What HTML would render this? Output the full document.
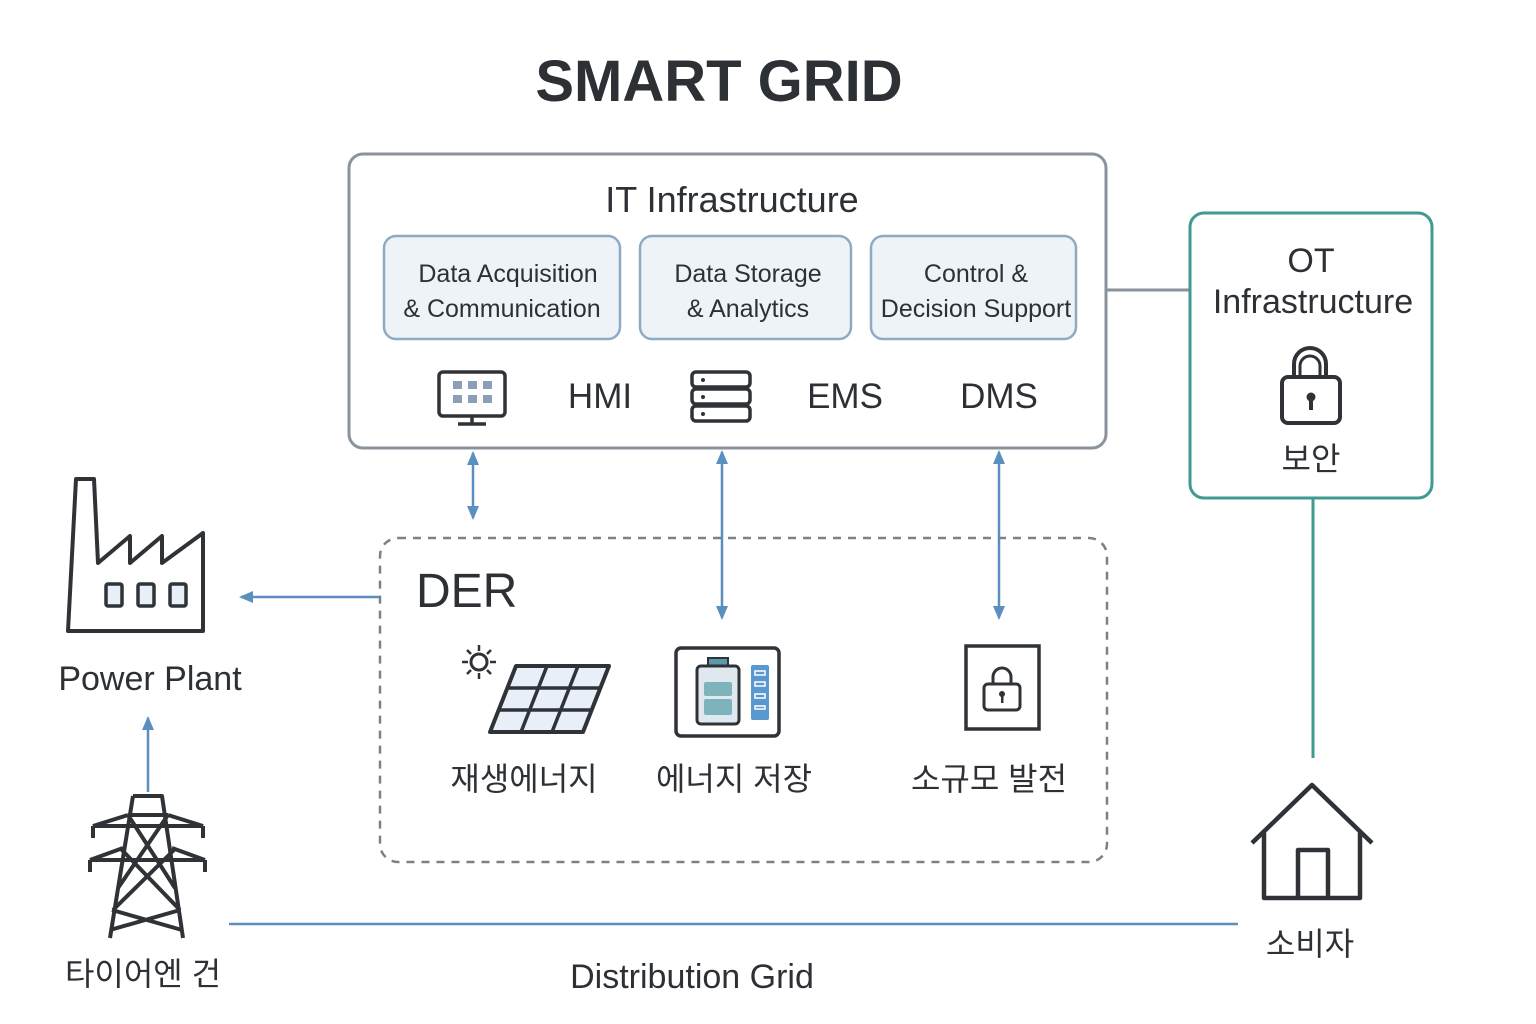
<!DOCTYPE html>
<html><head><meta charset="utf-8"><style>
html,body{margin:0;padding:0;background:#fff}
svg{display:block}
text{font-family:"Liberation Sans","Noto Sans CJK KR",sans-serif;fill:#2d3136}
</style></head><body>
<svg width="1536" height="1024" viewBox="0 0 1536 1024" xmlns="http://www.w3.org/2000/svg">
<defs>
<marker id="ar" markerWidth="14" markerHeight="12" refX="12" refY="6" orient="auto-start-reverse" markerUnits="userSpaceOnUse"><path d="M0,0 L14,6 L0,12 z" fill="#5a8fc0"/></marker>
</defs>
<text x="719" y="101" font-size="58" font-weight="bold" text-anchor="middle">SMART GRID</text>

<rect x="349" y="154" width="757" height="294" rx="14" fill="#fff" stroke="#8a939b" stroke-width="3"/>
<text x="732" y="212" font-size="36" text-anchor="middle">IT Infrastructure</text>
<rect x="384" y="236" width="236" height="103" rx="12" fill="#eef3f8" stroke="#8eaac4" stroke-width="2.5"/>
<text x="508" y="282" font-size="25" text-anchor="middle">Data Acquisition</text>
<text x="502" y="317" font-size="25" text-anchor="middle">&amp; Communication</text>
<rect x="640" y="236" width="211" height="103" rx="12" fill="#eef3f8" stroke="#8eaac4" stroke-width="2.5"/>
<text x="748" y="282" font-size="25" text-anchor="middle">Data Storage</text>
<text x="748" y="317" font-size="25" text-anchor="middle">&amp; Analytics</text>
<rect x="871" y="236" width="205" height="103" rx="12" fill="#eef3f8" stroke="#8eaac4" stroke-width="2.5"/>
<text x="976" y="282" font-size="25" text-anchor="middle">Control &amp;</text>
<text x="976" y="317" font-size="25" text-anchor="middle">Decision Support</text>
<rect x="439" y="372" width="66" height="44" rx="4" fill="#fff" stroke="#2f3338" stroke-width="3.5"/>
<g fill="#8aa0b5"><rect x="453" y="381" width="9" height="8"/><rect x="468" y="381" width="9" height="8"/><rect x="483" y="381" width="9" height="8"/><rect x="453" y="395" width="9" height="8"/><rect x="468" y="395" width="9" height="8"/><rect x="483" y="395" width="9" height="8"/></g>
<path d="M472 416 v7 M458 424 h28" stroke="#2f3338" stroke-width="3.5"/>
<text x="600" y="408" font-size="35" text-anchor="middle">HMI</text>
<g fill="#fff" stroke="#2f3338" stroke-width="3.5"><rect x="692" y="372" width="58" height="15" rx="4"/><rect x="692" y="389" width="58" height="15" rx="4"/><rect x="692" y="406" width="58" height="15" rx="4"/></g>
<g fill="#2f3338"><circle cx="703" cy="380" r="2"/><circle cx="703" cy="397" r="2"/><circle cx="703" cy="414" r="2"/></g>
<text x="845" y="408" font-size="35" text-anchor="middle">EMS</text>
<text x="999" y="408" font-size="35" text-anchor="middle">DMS</text>

<line x1="1106" y1="290" x2="1190" y2="290" stroke="#8a939b" stroke-width="3"/>
<rect x="1190" y="213" width="242" height="285" rx="14" fill="#fff" stroke="#3f9a8f" stroke-width="3"/>
<text x="1311" y="272" font-size="34" text-anchor="middle">OT</text>
<text x="1313" y="313" font-size="34" text-anchor="middle">Infrastructure</text>
<path d="M1294 378 v-14 a16 16 0 0 1 32 0 v14" fill="none" stroke="#2f3338" stroke-width="4"/>
<path d="M1300 378 v-12 a10 10 0 0 1 20 0 v12" fill="none" stroke="#2f3338" stroke-width="3"/>
<rect x="1282" y="377" width="58" height="46" rx="6" fill="#fff" stroke="#2f3338" stroke-width="4"/>
<circle cx="1311" cy="397" r="4.5" fill="#2f3338"/><rect x="1309" y="399" width="4" height="11" fill="#2f3338"/>
<text x="1311" y="470" font-size="32" text-anchor="middle">보안</text>
<line x1="1313" y1="498" x2="1313" y2="758" stroke="#3f9a8f" stroke-width="3"/>

<g stroke="#5a8fc0" stroke-width="2.5" fill="none">
<line x1="473" y1="453" x2="473" y2="518" marker-start="url(#ar)" marker-end="url(#ar)"/>
<line x1="722" y1="452" x2="722" y2="618" marker-start="url(#ar)" marker-end="url(#ar)"/>
<line x1="999" y1="452" x2="999" y2="618" marker-start="url(#ar)" marker-end="url(#ar)"/>
<line x1="380" y1="597" x2="241" y2="597" marker-end="url(#ar)"/>
<line x1="148" y1="792" x2="148" y2="718" marker-end="url(#ar)"/>
<line x1="229" y1="924" x2="1238" y2="924"/>
</g>

<rect x="380" y="538" width="727" height="324" rx="18" fill="none" stroke="#7a8289" stroke-width="2.5" stroke-dasharray="8 7"/>
<text x="416" y="607" font-size="48">DER</text>
<circle cx="479" cy="662" r="8" fill="none" stroke="#2f3338" stroke-width="3"/>
<g stroke="#2f3338" stroke-width="2.5"><path d="M479 645v6M479 673v6M462 662h6M490 662h6M467 650l4 4M487 670l4 4M467 674l4-4M487 654l4-4"/></g>
<path d="M516 666 L609 666 L583 732 L490 732 Z" fill="#e8eff8" stroke="#2f3338" stroke-width="4" stroke-linejoin="round"/>
<g stroke="#2f3338" stroke-width="3.5"><line x1="508" y1="688" x2="601" y2="688"/><line x1="499" y1="710" x2="592" y2="710"/><line x1="547" y1="666" x2="521" y2="732"/><line x1="578" y1="666" x2="552" y2="732"/></g>
<rect x="676" y="648" width="103" height="88" rx="5" fill="#fff" stroke="#2f3338" stroke-width="3.5"/>
<rect x="708" y="658" width="20" height="8" fill="#5b9aa6" stroke="#2f3338" stroke-width="2"/>
<rect x="697" y="666" width="42" height="58" rx="4" fill="#dfe8ee" stroke="#2f3338" stroke-width="3"/>
<rect x="704" y="682" width="28" height="14" rx="2" fill="#7fb3bc"/><rect x="704" y="699" width="28" height="16" rx="2" fill="#7fb3bc"/>
<rect x="751" y="665" width="18" height="55" rx="2" fill="#5a98d0"/>
<g fill="none" stroke="#fff" stroke-width="1.5"><rect x="755" y="671" width="10" height="4"/><rect x="755" y="682" width="10" height="4"/><rect x="755" y="694" width="10" height="4"/><rect x="755" y="706" width="10" height="3"/></g>
<rect x="966" y="646" width="73" height="83" fill="#fff" stroke="#2f3338" stroke-width="3.5"/>
<path d="M993 685 v-8 a9 9 0 0 1 18 0 v8" fill="none" stroke="#2f3338" stroke-width="3"/>
<rect x="984" y="684" width="36" height="26" rx="4" fill="#fff" stroke="#2f3338" stroke-width="3"/>
<circle cx="1002" cy="694" r="3" fill="#2f3338"/><rect x="1001" y="695" width="2.5" height="8" fill="#2f3338"/>
<text x="524" y="790" font-size="32" text-anchor="middle">재생에너지</text>
<text x="734" y="790" font-size="32" text-anchor="middle">에너지 저장</text>
<text x="989" y="790" font-size="32" text-anchor="middle">소규모 발전</text>

<path d="M68 631 L76 479 L94 479 L98 563 L130 536 L130 563 L162 536 L162 563 L203 533 L203 631 Z" fill="#fff" stroke="#2f3338" stroke-width="4" stroke-linejoin="round"/>
<g fill="#e8eff8" stroke="#2f3338" stroke-width="3.5"><rect x="106" y="584" width="16" height="22" rx="2"/><rect x="138" y="584" width="16" height="22" rx="2"/><rect x="170" y="584" width="16" height="22" rx="2"/></g>
<text x="150" y="690" font-size="34" text-anchor="middle">Power Plant</text>
<g fill="none" stroke="#2f3338" stroke-width="4" stroke-linejoin="round">
<path d="M133 796 L162 796 L183 938 M133 796 L110 938"/>
<path d="M128 815 L168 815 M93 826 L128 815 M168 815 L203 826 M93 826 v12 M203 826 v12 M93 826 h110"/>
<path d="M90 860 L123 848 M172 848 L205 860 M90 860 h115 M90 860 v12 M205 860 v12"/>
<path d="M128 815 L175 888 M168 815 L118 888 M120 848 L180 910 M176 848 L113 910 M112 910 L182 930 M180 910 L110 930"/>
</g>
<text x="143" y="985" font-size="32" text-anchor="middle">타이어엔 건</text>
<text x="692" y="988" font-size="34" text-anchor="middle">Distribution Grid</text>
<path d="M1252 843 L1312 785 L1372 843 M1264 832 V898 H1360 V832 M1298 898 V850 H1328 V898" fill="none" stroke="#2f3338" stroke-width="4.5" stroke-linejoin="round"/>
<text x="1310" y="955" font-size="32" text-anchor="middle">소비자</text>
</svg>
</body></html>
